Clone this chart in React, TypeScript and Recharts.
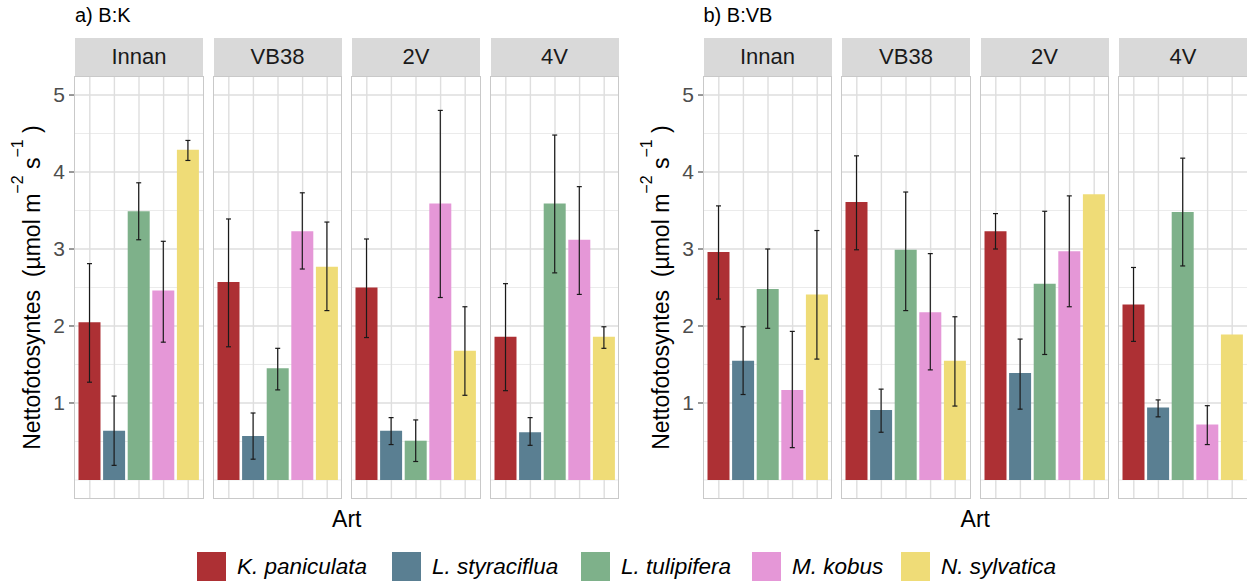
import React from "react";
import { BarChart, Bar, Cell, XAxis, YAxis, CartesianGrid, ErrorBar, ReferenceLine } from "recharts";

const SPECIES = ["K. paniculata", "L. styraciflua", "L. tulipifera", "M. kobus", "N. sylvatica"];
const COLORS = ["#ad3034", "#5a7f92", "#7eb18a", "#e597d7", "#efdc77"];
const FACETS = ["Innan", "VB38", "2V", "4V"];
const Y_TICKS = [1, 2, 3, 4, 5];
const MAJOR_Y = [1, 2, 3, 4, 5];
const MINOR_Y = [0, 0.5, 1.5, 2.5, 3.5, 4.5];

// a) B:K — one row per facet, columns follow SPECIES
const bkMean = [
  [2.05, 0.64, 3.49, 2.46, 4.29],
  [2.57, 0.57, 1.45, 3.23, 2.77],
  [2.5, 0.64, 0.51, 3.59, 1.68],
  [1.86, 0.62, 3.59, 3.12, 1.86],
];
const bkLow = [
  [1.27, 0.19, 3.12, 1.79, 4.15],
  [1.73, 0.27, 1.17, 2.74, 2.2],
  [1.85, 0.46, 0.24, 2.37, 1.1],
  [1.16, 0.45, 2.69, 2.41, 1.71],
];
const bkHigh = [
  [2.81, 1.09, 3.86, 3.1, 4.41],
  [3.39, 0.87, 1.71, 3.73, 3.35],
  [3.13, 0.81, 0.78, 4.8, 2.25],
  [2.55, 0.81, 4.48, 3.81, 1.99],
];

// b) B:VB
const bvbMean = [
  [2.96, 1.55, 2.48, 1.17, 2.41],
  [3.61, 0.91, 2.99, 2.18, 1.55],
  [3.23, 1.39, 2.55, 2.97, 3.71],
  [2.28, 0.94, 3.48, 0.72, 1.89],
];
const bvbLow = [
  [2.35, 1.11, 1.97, 0.42, 1.57],
  [2.99, 0.62, 2.2, 1.43, 0.96],
  [3.0, 0.92, 1.63, 2.25, null],
  [1.8, 0.82, 2.78, 0.46, null],
];
const bvbHigh = [
  [3.56, 1.99, 3.0, 1.93, 3.24],
  [4.21, 1.18, 3.74, 2.94, 2.12],
  [3.46, 1.83, 3.49, 3.69, null],
  [2.76, 1.04, 4.18, 0.965, null],
];

const FONT = '"Liberation Sans", Arial, sans-serif';
const PLOT_TOP = 77;
const PLOT_H = 421;
const FACET_W = 128;
const FACET_STEP = 138.5;
const STRIP_TOP = 38;
const STRIP_H = 38;
const Y_AXIS_W = 40;
const Y_DOMAIN: [number, number] = [-0.234, 5.234];
const X_PAD = { left: 2.5, right: 2.5 };
const LEGEND_ITEM_W = [195, 189, 171, 149, 170];

type FacetProps = {
  left: number;
  name: string;
  mean: number[];
  low: (number | null)[];
  high: (number | null)[];
  showAxis: boolean;
};

const Facet: React.FC<FacetProps> = ({ left, name, mean, low, high, showAxis }) => {
  const data = SPECIES.map((sp, i) => ({
    sp,
    v: mean[i],
    err: low[i] == null || high[i] == null ? null : [mean[i] - (low[i] as number), (high[i] as number) - mean[i]],
  }));
  const axisW = showAxis ? Y_AXIS_W : 0;
  const margin = { top: 0, right: 0, bottom: 0, left: 0 };
  return (
    <>
      <div
        style={{
          position: "absolute",
          left,
          top: STRIP_TOP,
          width: FACET_W,
          height: STRIP_H,
          background: "#d9d9d9",
          color: "#1a1a1a",
          fontSize: 22,
          lineHeight: `${STRIP_H}px`,
          textAlign: "center",
        }}
      >
        {name}
      </div>
      {/* grid layer, drawn underneath the bars */}
      <div style={{ position: "absolute", left, top: PLOT_TOP }}>
        <BarChart width={FACET_W} height={PLOT_H} data={data} margin={margin}>
          <CartesianGrid vertical={false} horizontalValues={MINOR_Y} stroke="#e6e6e6" strokeWidth={0.8} />
          <CartesianGrid vertical={false} horizontalValues={MAJOR_Y} stroke="#dedede" strokeWidth={1.4} />
          {SPECIES.map((sp) => (
            <ReferenceLine key={sp} x={sp} stroke="#dedede" strokeWidth={1.4} />
          ))}
          <XAxis dataKey="sp" height={0} tick={false} tickLine={false} axisLine={false} padding={X_PAD} />
          <YAxis type="number" domain={Y_DOMAIN} allowDataOverflow hide />
        </BarChart>
      </div>
      {/* bars and y axis */}
      <div style={{ position: "absolute", left: left - axisW, top: PLOT_TOP }}>
        <BarChart width={FACET_W + axisW} height={PLOT_H} data={data} margin={margin} barSize={22}>
          <XAxis dataKey="sp" height={0} tick={false} tickLine={false} axisLine={false} padding={X_PAD} />
          <YAxis
            type="number"
            domain={Y_DOMAIN}
            allowDataOverflow
            ticks={Y_TICKS}
            width={axisW}
            hide={!showAxis}
            axisLine={false}
            tickLine={{ stroke: "#333333" }}
            tickSize={6}
            tickMargin={4}
            tick={{ fill: "#4d4d4d", fontSize: 21, fontFamily: FONT }}
          />
          <Bar dataKey="v" isAnimationActive={false}>
            {data.map((d) => (
              <Cell key={d.sp} fill={COLORS[SPECIES.indexOf(d.sp)]} />
            ))}
            <ErrorBar dataKey="err" direction="y" width={2.5} stroke="#1a1a1a" strokeWidth={1.2} />
          </Bar>
        </BarChart>
      </div>
      <div
        style={{
          position: "absolute",
          left: left - 0.75,
          top: PLOT_TOP - 0.75,
          width: FACET_W + 1.5,
          height: PLOT_H + 1.5,
          border: "1.5px solid #c9c9c9",
          boxSizing: "border-box",
          pointerEvents: "none",
        }}
      />
    </>
  );
};

const YTitle: React.FC<{ x: number }> = ({ x }) => (
  <svg style={{ position: "absolute", left: 0, top: 0 }} width={1247} height={585} pointerEvents="none">
    <text
      transform={`translate(${x}, 287.5) rotate(-90)`}
      textAnchor="middle"
      fontFamily={FONT}
      fontSize={23}
      fill="#000"
    >
      Nettofotosyntes{"\u00a0\u00a0"}(µmol m
      <tspan dy={-17} fontSize={16}>−2</tspan>
      <tspan dy={17}>{"\u00a0"}s</tspan>
      <tspan dy={-17} fontSize={16}>−1</tspan>
      <tspan dy={17}>{"\u00a0"})</tspan>
    </text>
  </svg>
);

type PanelProps = {
  left: number;
  title: string;
  mean: number[][];
  low: (number | null)[][];
  high: (number | null)[][];
};

const Panel: React.FC<PanelProps> = ({ left, title, mean, low, high }) => (
  <>
    <div style={{ position: "absolute", left, top: 4, fontSize: 20, color: "#000" }}>{title}</div>
    <YTitle x={left - 35} />
    {FACETS.map((f, i) => (
      <Facet
        key={f}
        left={left + i * FACET_STEP}
        name={f}
        mean={mean[i]}
        low={low[i]}
        high={high[i]}
        showAxis={i === 0}
      />
    ))}
    <div
      style={{
        position: "absolute",
        left,
        width: FACET_W + 3 * FACET_STEP,
        top: 506,
        textAlign: "center",
        fontSize: 23,
        color: "#000",
      }}
    >
      Art
    </div>
  </>
);

export default function App() {
  return (
    <div
      style={{
        position: "absolute",
        left: 0,
        top: 0,
        width: 1247,
        height: 585,
        background: "#fff",
        fontFamily: FONT,
        overflow: "hidden",
      }}
    >
      <Panel left={75} title="a) B:K" mean={bkMean} low={bkLow} high={bkHigh} />
      <Panel left={703.5} title="b) B:VB" mean={bvbMean} low={bvbLow} high={bvbHigh} />
      <div style={{ position: "absolute", left: 197, top: 552, display: "flex", alignItems: "center" }}>
        {SPECIES.map((sp, i) => (
          <div key={sp} style={{ display: "flex", alignItems: "center", width: LEGEND_ITEM_W[i] }}>
            <div style={{ width: 29, height: 29, background: COLORS[i], flexShrink: 0 }} />
            <span style={{ marginLeft: 11, fontSize: 22.5, fontStyle: "italic", color: "#000", whiteSpace: "nowrap" }}>
              {sp}
            </span>
          </div>
        ))}
      </div>
    </div>
  );
}
